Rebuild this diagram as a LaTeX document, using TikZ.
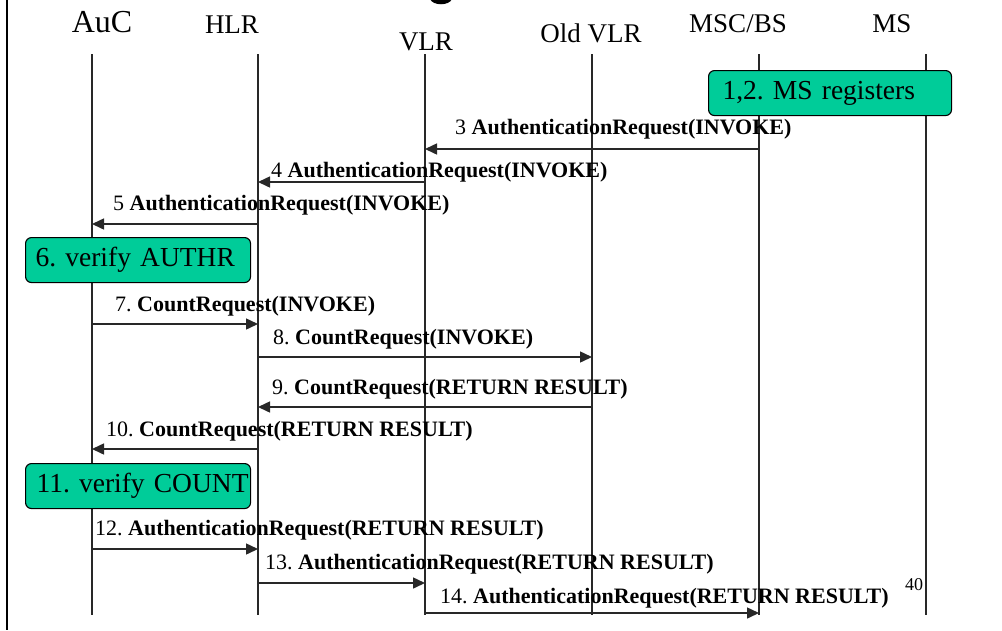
\documentclass[tikz,border=0pt]{standalone}
\usepackage{fontspec}
\setmainfont{Liberation Serif}
\usetikzlibrary{arrows.meta}
\definecolor{boxgreen}{RGB}{0,204,153}
\definecolor{linegray}{RGB}{40,40,40}
\frenchspacing
\begin{document}
\begin{tikzpicture}[x=1pt,y=-1pt,
  head/.style={anchor=base,inner sep=0pt,font=\fontsize{27}{30}\selectfont},
  lifeline/.style={draw=linegray,line width=1.5pt},
  msg/.style={draw=linegray,line width=1.5pt,-{Triangle[length=12pt,width=11pt]}},
  lbl/.style={anchor=base west,inner sep=0pt,font=\fontsize{22}{26}\selectfont},
  actbox/.style={draw=black,line width=1.1pt,fill=boxgreen,rounded corners=6pt,
    anchor=north west,align=left,inner xsep=0pt,inner ysep=0pt,minimum height=45pt,
    font=\fontsize{27.5}{30}\selectfont}
]
\useasboundingbox (0,0) rectangle (1002,630);
\fill[white] (0,0) rectangle (1002,630);

% frame edge on the left and the foot of the cut-off heading
\draw[black,line width=1.5pt] (7,0) -- (7,630);
\fill[black] (430,-1) .. controls (433,6) and (449,6) .. (452,-1) -- cycle;

% entity headings
\node[head,font=\fontsize{32}{34}\selectfont] (auc) at (102,32) {AuC};
\node[head] (hlr) at (232,33) {HLR};
\node[head] (vlr) at (426,50) {VLR};
\node[head] (ovlr) at (591,42) {Old VLR};
\node[head] (msc) at (738,32) {MSC/BS};
\node[head] (ms) at (892,32) {MS};

% lifelines
\foreach \n/\x in {aucL/92,hlrL/258,vlrL/425,ovlrL/592,mscL/759,msL/926}{
  \coordinate (\n T) at (\x,54);
  \coordinate (\n B) at (\x,615);
}
\foreach \n in {aucL,hlrL,vlrL,ovlrL,mscL,msL}{
  \draw[lifeline] (\n T) -- (\n B);
}

% local actions
\node[actbox,text width=243pt] (act12) at (708,70) {\hspace*{14pt}1,2. MS registers};
\node[actbox,text width=225pt] (act6) at (25,237) {\hspace*{10pt}6. verify AUTHR};
\node[actbox,text width=225pt] (act11) at (25,463) {\hspace*{11pt}11. verify COUNT};

% message rows
\foreach \r/\y in {3/149,4/182,5/224,7/324,8/357,9/407,10/449,12/549,13/583,14/613}{
  \coordinate (row\r) at (0,\y);
}

% messages
\draw[msg] (mscLT |- row3) -- (vlrLT |- row3);
\node[lbl] (l3) at (455,134) {3 \textbf{AuthenticationRequest(INVOKE)}};

\draw[msg] (vlrLT |- row4) -- (hlrLT |- row4);
\node[lbl] (l4) at (271,177) {4 \textbf{AuthenticationRequest(INVOKE)}};

\draw[msg] (hlrLT |- row5) -- (aucLT |- row5);
\node[lbl] (l5) at (113,210) {5 \textbf{AuthenticationRequest(INVOKE)}};

\draw[msg] (aucLT |- row7) -- (hlrLT |- row7);
\node[lbl] (l7) at (115,311) {7. \textbf{CountRequest(INVOKE)}};

\draw[msg] (hlrLT |- row8) -- (ovlrLT |- row8);
\node[lbl] (l8) at (273,344) {8. \textbf{CountRequest(INVOKE)}};

\draw[msg] (ovlrLT |- row9) -- (hlrLT |- row9);
\node[lbl] (l9) at (272,394) {9. \textbf{CountRequest(RETURN RESULT)}};

\draw[msg] (hlrLT |- row10) -- (aucLT |- row10);
\node[lbl] (l10) at (106,436) {10. \textbf{CountRequest(RETURN RESULT)}};

\draw[msg] (aucLT |- row12) -- (hlrLT |- row12);
\node[lbl] (l12) at (95,535) {12. \textbf{AuthenticationRequest(RETURN RESULT)}};

\draw[msg] (hlrLT |- row13) -- (vlrLT |- row13);
\node[lbl] (l13) at (265,569) {13. \textbf{AuthenticationRequest(RETURN RESULT)}};

\draw[msg] (vlrLT |- row14) -- (mscLT |- row14);
\node[lbl] (l14) at (440,603) {14. \textbf{AuthenticationRequest(RETURN RESULT)}};

% page number
\node[anchor=base west,inner sep=0pt,font=\fontsize{18}{20}\selectfont] (pg) at (905,590) {40};
\end{tikzpicture}
\end{document}
